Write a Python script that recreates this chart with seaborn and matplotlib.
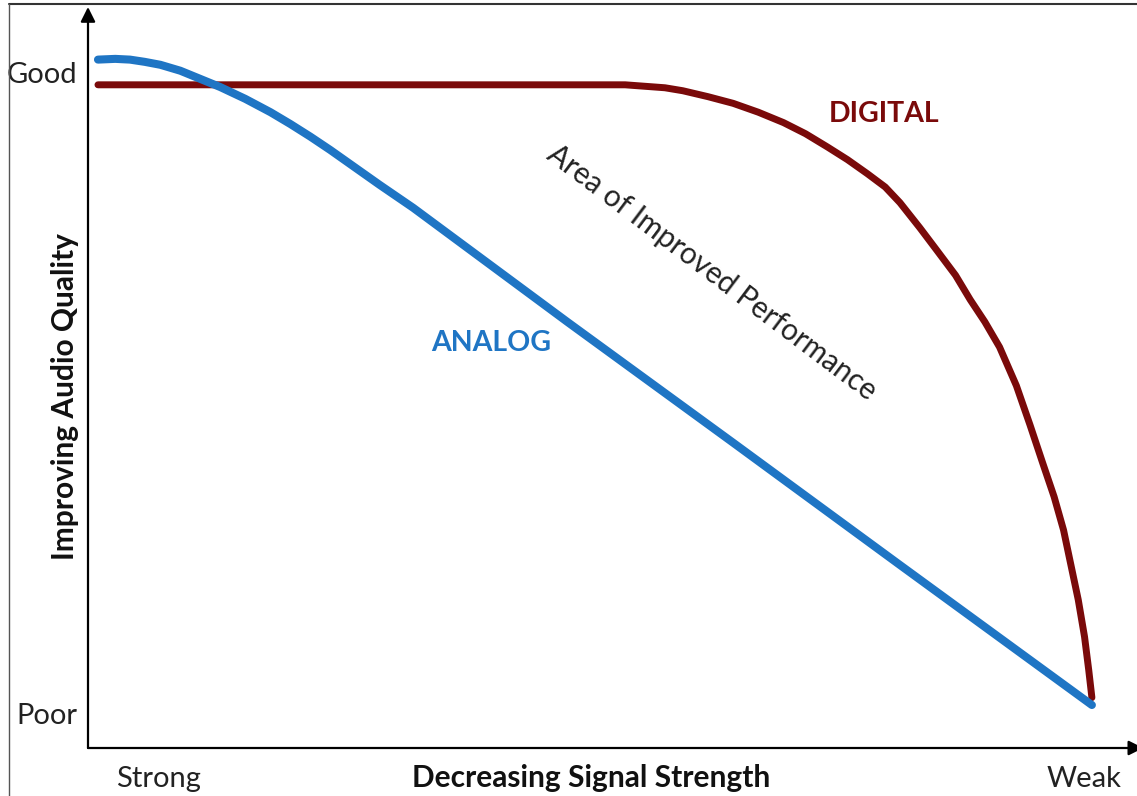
import numpy as np
import pandas as pd
import seaborn as sns
import matplotlib.pyplot as plt
from matplotlib.lines import Line2D

# values (0-100 arbitrary units on both axes)
analog_x = [0.95, 2.6, 4.0, 5.4, 6.9, 8.8, 10.7, 12.6, 15.0, 17.4, 19.3, 21.2, 23.1,
            24.7, 27.8, 31.0, 45.7, 61.5, 77.4, 95.7]
analog_y = [92.9, 93.0, 92.9, 92.6, 92.2, 91.4, 90.3, 89.2, 87.6, 85.8, 84.2, 82.5, 80.7,
            79.1, 76.0, 72.9, 57.5, 41.2, 24.7, 5.8]

digital_x = [0.95, 51.2, 53.1, 55.0, 56.7, 59.1, 61.5, 63.9, 66.3, 68.4, 70.5, 72.4, 74.3,
             76.0, 77.4, 79.3, 80.9, 82.7, 84.1, 85.5, 86.9, 88.5, 89.8, 91.0, 92.1,
             93.0, 93.7, 94.4, 95.0, 95.4, 95.7]
digital_y = [89.5, 89.5, 89.3, 89.1, 88.7, 87.9, 87.0, 85.8, 84.4, 82.9, 81.1, 79.4, 77.5,
             75.7, 73.6, 70.2, 67.2, 63.8, 60.5, 57.5, 54.1, 48.9, 43.6, 38.5, 33.9,
             29.4, 24.7, 20.0, 15.0, 10.5, 6.8]

y_tick_pos = [91.2, 4.7]
y_tick_labels = ["Good", "Poor"]
x_tick_pos = [6.7, 94.9]
x_tick_labels = ["Strong", "Weak"]

BLUE = "#1f75c4"
RED = "#7a0a0a"

sns.set_theme(style="white")
plt.rcParams["font.family"] = ["Lato", "DejaVu Sans"]

fig = plt.figure(figsize=(11.37, 7.96), dpi=100)
ax = fig.add_axes([88 / 1137, 48 / 796, 1049 / 1137, 741 / 796])

df_analog = pd.DataFrame({"x": analog_x, "y": analog_y})
df_digital = pd.DataFrame({"x": digital_x, "y": digital_y})

sns.lineplot(data=df_digital, x="x", y="y", ax=ax, color=RED, linewidth=5.0,
             estimator=None, sort=False, solid_capstyle="round", solid_joinstyle="round")
sns.lineplot(data=df_analog, x="x", y="y", ax=ax, color=BLUE, linewidth=5.8,
             estimator=None, sort=False, solid_capstyle="round", solid_joinstyle="round")

ax.set_xlim(0, 100)
ax.set_ylim(0, 100)
for s in ax.spines.values():
    s.set_visible(False)

# axes arrows
arrow = dict(arrowstyle="-|>", color="black", lw=1.6, mutation_scale=22, shrinkA=0, shrinkB=0)
ax.annotate("", xy=(0, 1.0), xytext=(0, 0), xycoords="axes fraction", arrowprops=arrow,
            annotation_clip=False)
ax.annotate("", xy=(1.006, 0), xytext=(0, 0), xycoords="axes fraction", arrowprops=arrow,
            annotation_clip=False)

ax.set_yticks(y_tick_pos, y_tick_labels, fontsize=21, color="#222222")
ax.set_xticks(x_tick_pos, x_tick_labels, fontsize=21, color="#222222")
ax.tick_params(axis="y", length=0, pad=8)
ax.tick_params(axis="x", length=0, pad=13)

ax.set_xlabel("Decreasing Signal Strength", fontsize=21.5, fontweight="bold", color="#111111")
ax.xaxis.set_label_coords(0.48, -0.0405)
ax.xaxis.label.set_va("center")
ax.set_ylabel("Improving Audio Quality", fontsize=21.5, fontweight="bold", color="#111111")
ax.yaxis.set_label_coords(-0.022, 0.474)
ax.yaxis.label.set_va("center")

ax.text(38.4, 54.7, "ANALOG", fontsize=20.5, fontweight="bold", color=BLUE, ha="center", va="center")
ax.text(75.9, 85.6, "DIGITAL", fontsize=20.5, fontweight="bold", color=RED, ha="center", va="center")
ax.text(59.5, 64.2, "Area of Improved Performance", fontsize=21.3, color="#222222",
        rotation=-37, rotation_mode="anchor", ha="center", va="center")

# screenshot border (top and left edges)
fig.add_artist(Line2D([9 / 1137, 1], [1 - 4 / 796, 1 - 4 / 796], color="#333333", lw=1.5))
fig.add_artist(Line2D([9 / 1137, 9 / 1137], [0, 1 - 4 / 796], color="#555555", lw=1.0))

fig.savefig("out.png", dpi=100)
